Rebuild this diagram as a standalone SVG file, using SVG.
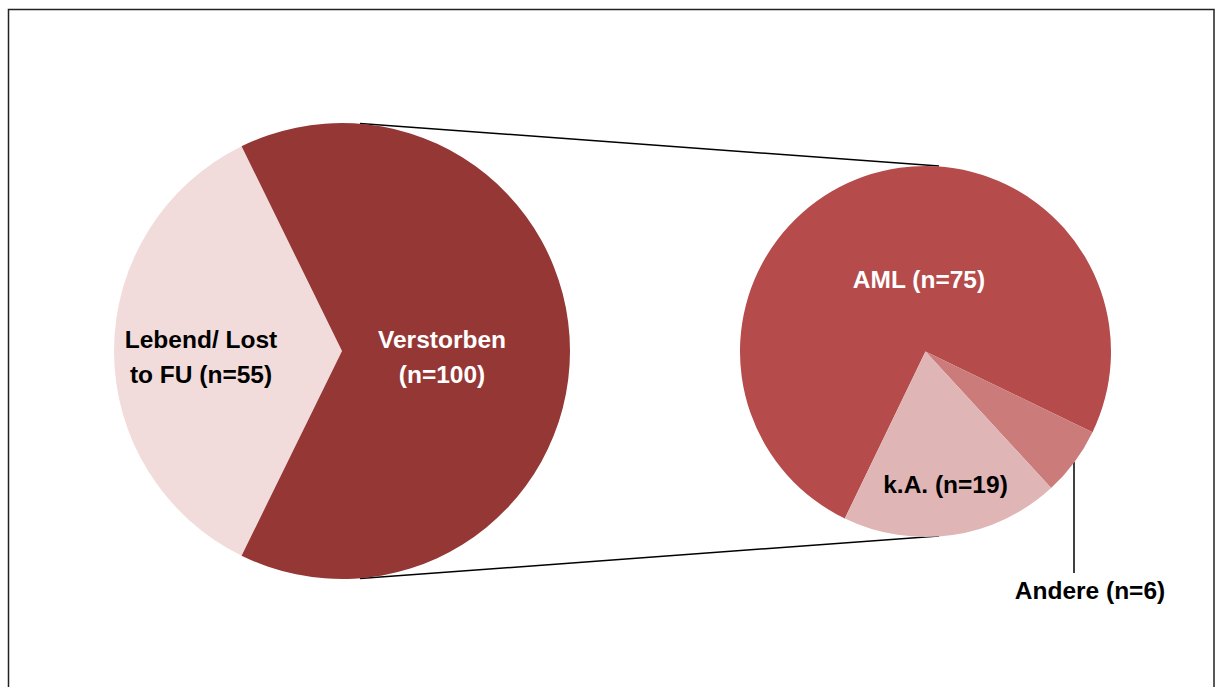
<svg xmlns="http://www.w3.org/2000/svg" width="1215" height="687" viewBox="0 0 1215 687">
<style>
.lbl{font-family:"Liberation Sans",Arial,sans-serif;font-weight:bold;font-size:24.5px;text-anchor:middle}
.dark{fill:#000}
.light{fill:#fff}
.conn{stroke:#000;stroke-width:1.5;fill:none}
</style>
<rect x="0" y="0" width="1215" height="687" fill="#fff"/>
<rect x="8.5" y="9.5" width="1205.5" height="700" fill="none" stroke="#222" stroke-width="1.5"/>
<g id="connectors">
<line class="conn" x1="360" y1="123.5" x2="939" y2="166"/>
<line class="conn" x1="360" y1="578.5" x2="939" y2="536"/>
<line class="conn" x1="1074" y1="462" x2="1074" y2="573"/>
</g>
<g id="node-lebend">
<path d="M342,351 L241.6,555.7 A228,228 0 0,1 241.6,146.3 Z" fill="#F2DCDB"/>
<text class="lbl dark" x="201" y="348">Lebend/ Lost</text>
<text class="lbl dark" x="201" y="383">to FU (n=55)</text>
</g>
<g id="node-verstorben">
<path d="M342,351 L241.6,146.3 A228,228 0 1,1 241.6,555.7 Z" fill="#953735"/>
<text class="lbl light" x="442" y="348">Verstorben</text>
<text class="lbl light" x="442" y="383">(n=100)</text>
</g>
<g id="node-aml">
<path d="M925.5,351.5 L844.8,518.5 A185.5,185.5 0 1,1 1092.5,432.2 Z" fill="#B54B4A"/>
<text class="lbl light" x="919" y="288">AML (n=75)</text>
</g>
<g id="node-andere">
<path d="M925.5,351.5 L1092.5,432.2 A185.5,185.5 0 0,1 1051.1,488 Z" fill="#CB7B7A"/>
<text class="lbl dark" x="1090" y="599">Andere (n=6)</text>
</g>
<g id="node-ka">
<path d="M925.5,351.5 L1051.1,488 A185.5,185.5 0 0,1 844.8,518.5 Z" fill="#E0B5B5"/>
<text class="lbl dark" x="945.5" y="493">k.A. (n=19)</text>
</g>
</svg>
